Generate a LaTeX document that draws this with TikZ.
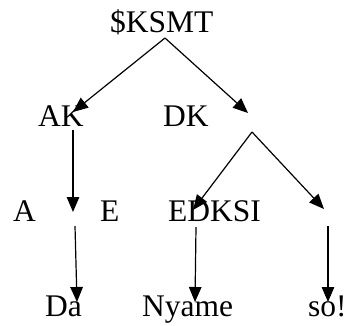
\documentclass[tikz,border=0pt]{standalone}
\usepackage{fontspec}
\setmainfont{Liberation Serif}
\usetikzlibrary{arrows.meta}

\begin{document}
\begin{tikzpicture}[
  x=1pt, y=-1pt,
  word/.style={anchor=base west, inner sep=0pt, font=\fontsize{31.5}{31.5}\selectfont},
  arrow/.style={-{Triangle[length=15pt, width=12.5pt]}, line width=1.2pt},
]
  \useasboundingbox (0,0) rectangle (348,325);

  % words
  \node[word] (ksmt) at (110,32) {\$KSMT};
  \node[word] (ak) at (38,126) {AK};
  \node[word] (dk) at (163,126) {DK};
  \node[word] (a) at (13,221) {A};
  \node[word] (e) at (100,221) {E};
  \node[word] (edksi) at (168,221) {EDKSI};
  \node[word] (da) at (45,316) {Da};
  \node[word] (nyame) at (142,316) {Nyame};
  \node[word] (so) at (308,316) {so!};

  % edge ends
  \coordinate (ksmt-out) at (165,38);
  \coordinate (ak-in) at (73,112);
  \coordinate (ak-out) at (73,130);
  \coordinate (v1-in) at (248,113);
  \coordinate (v1-out) at (252,132);
  \coordinate (v2-in) at (73,212);
  \coordinate (v2-out) at (75,226);
  \coordinate (v3-in) at (324,209);
  \coordinate (v3-out) at (328,226);
  \coordinate (edksi-in) at (193,210);
  \coordinate (edksi-out) at (196,227);
  \coordinate (da-in) at (77,302);
  \coordinate (nyame-in) at (195,302);
  \coordinate (so-in) at (328,302);

  \draw[arrow] (ksmt-out) -- (ak-in);
  \draw[arrow] (ksmt-out) -- (v1-in);
  \draw[arrow] (ak-out) -- (v2-in);
  \draw[arrow] (v1-out) -- (edksi-in);
  \draw[arrow] (v1-out) -- (v3-in);
  \draw[arrow] (v2-out) -- (da-in);
  \draw[arrow] (edksi-out) -- (nyame-in);
  \draw[arrow] (v3-out) -- (so-in);
\end{tikzpicture}
\end{document}
